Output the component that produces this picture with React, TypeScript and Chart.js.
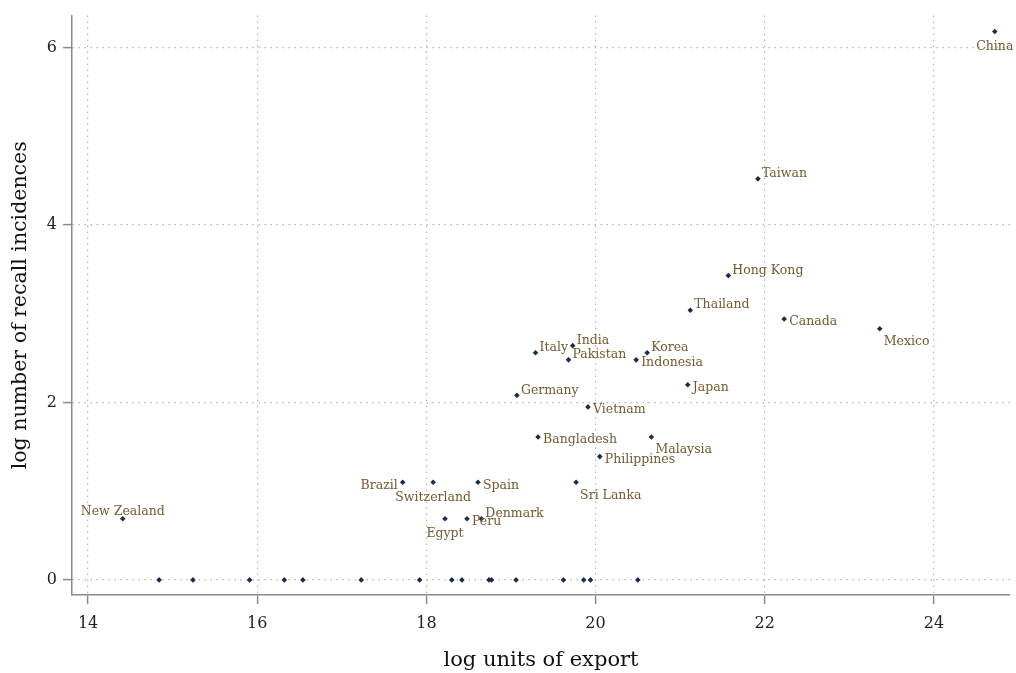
import React, { useEffect, useRef } from "react";
import { Chart, registerables } from "chart.js";

Chart.register(...registerables);

const countries = [
  "China", "Taiwan", "Hong Kong", "Thailand", "Canada", "Mexico",
  "India", "Italy", "Pakistan", "Korea", "Indonesia", "Japan",
  "Germany", "Vietnam", "Bangladesh", "Malaysia", "Philippines",
  "Brazil", "Switzerland", "Spain", "Sri Lanka", "Egypt", "Peru",
  "Denmark", "New Zealand",
];
const logExport = [
  24.72, 21.92, 21.57, 21.12, 22.23, 23.36,
  19.73, 19.29, 19.68, 20.61, 20.48, 21.09,
  19.07, 19.91, 19.32, 20.66, 20.05,
  17.72, 18.08, 18.61, 19.77, 18.22, 18.48,
  18.65, 14.41,
];
const logRecalls = [
  6.18, 4.52, 3.43, 3.04, 2.94, 2.83,
  2.64, 2.56, 2.48, 2.56, 2.48, 2.20,
  2.08, 1.95, 1.61, 1.61, 1.39,
  1.10, 1.10, 1.10, 1.10, 0.69, 0.69,
  0.69, 0.69,
];
// clock position of each marker label (Stata style)
const labelClock = [
  6, 2, 2, 2, 3, 4,
  2, 2, 2, 2, 3, 3,
  2, 3, 3, 4, 3,
  9, 6, 3, 4, 6, 3,
  2, 12,
];
// unlabelled points with zero recalls (log 1 = 0)
const zeroExport = [
  14.84, 15.24, 15.91, 16.32, 16.54, 17.23, 17.92, 18.30,
  18.42, 18.74, 18.77, 19.06, 19.62, 19.86, 19.94, 20.50,
];
const zeroRecalls = zeroExport.map(() => 0);

const xTicks = [14, 16, 18, 20, 22, 24];
const yTicks = [0, 2, 4, 6];

const FONT = "'DejaVu Serif', serif";
const LABEL_COLOR = "#735a30";
const DOT_COLOR = "#1c2b4f";
const AXIS_COLOR = "#8a8a8a";
const GRID_COLOR = "#b4b4b4";

const clockOffsets: Record<number, { dx: number; dy: number; align: CanvasTextAlign }> = {
  2: { dx: 4, dy: -5, align: "left" },
  3: { dx: 5, dy: 3, align: "left" },
  4: { dx: 4, dy: 13, align: "left" },
  6: { dx: 0, dy: 15, align: "center" },
  9: { dx: -5, dy: 3, align: "right" },
  12: { dx: 0, dy: -7, align: "center" },
};

const labelPlugin = {
  id: "markerLabels",
  afterDatasetsDraw(chart: any) {
    const meta = chart.getDatasetMeta(0);
    const ctx = chart.ctx;
    ctx.save();
    ctx.font = `12.5px ${FONT}`;
    ctx.fillStyle = LABEL_COLOR;
    ctx.textBaseline = "middle";
    meta.data.forEach((pt: any, i: number) => {
      const o = clockOffsets[labelClock[i]];
      ctx.textAlign = o.align;
      ctx.fillText(countries[i], pt.x + o.dx, pt.y + o.dy);
    });
    ctx.restore();
  },
};

const gridOpts = {
  color: GRID_COLOR,
  lineWidth: 1.2,
  drawTicks: true,
  tickLength: 9,
  tickColor: AXIS_COLOR,
  tickWidth: 1.5,
  tickBorderDash: [],
};

export default function App() {
  const ref = useRef<HTMLCanvasElement>(null);
  useEffect(() => {
    document.body.style.margin = "0";
    const chart = new Chart(ref.current!, {
      type: "scatter",
      data: {
        datasets: [
          {
            data: countries.map((_, i) => ({ x: logExport[i], y: logRecalls[i] })),
            pointStyle: "rectRot",
            pointRadius: 2.8,
            backgroundColor: DOT_COLOR,
            borderColor: DOT_COLOR,
            borderWidth: 0,
          },
          {
            data: zeroExport.map((x, i) => ({ x, y: zeroRecalls[i] })),
            pointStyle: "rectRot",
            pointRadius: 2.8,
            backgroundColor: DOT_COLOR,
            borderColor: DOT_COLOR,
            borderWidth: 0,
          },
        ],
      },
      options: {
        animation: false,
        responsive: false,
        layout: { padding: { top: 15, right: 6, left: 0, bottom: 0 } },
        plugins: { legend: { display: false }, tooltip: { enabled: false } },
        scales: {
          x: {
            type: "linear",
            min: 13.81,
            max: 24.9,
            afterBuildTicks: (s: any) => {
              s.ticks = xTicks.map((v) => ({ value: v }));
            },
            afterFit: (s: any) => {
              s.height = 78;
            },
            border: { display: true, color: AXIS_COLOR, width: 1.5, dash: [1.5, 4.5] },
            grid: gridOpts,
            ticks: {
              color: "#222",
              font: { family: FONT, size: 16 },
              padding: 10,
              callback: (v: any) => String(v),
            },
            title: {
              display: true,
              text: "log units of export",
              color: "#111",
              font: { family: FONT, size: 21 },
              padding: { top: 10, bottom: 0 },
            },
          },
          y: {
            type: "linear",
            min: -0.17,
            max: 6.36,
            afterBuildTicks: (s: any) => {
              s.ticks = yTicks.map((v) => ({ value: v }));
            },
            afterFit: (s: any) => {
              s.width = 72;
            },
            border: { display: true, color: AXIS_COLOR, width: 1.5, dash: [1.5, 4.5] },
            grid: gridOpts,
            ticks: {
              color: "#222",
              font: { family: FONT, size: 16 },
              padding: 6,
              callback: (v: any) => String(v),
            },
            title: {
              display: true,
              text: "log number of recall incidences",
              color: "#111",
              font: { family: FONT, size: 20.5 },
              padding: { top: 8, bottom: 0 },
            },
          },
        },
      },
      plugins: [labelPlugin],
    });
    return () => chart.destroy();
  }, []);
  return (
    <div style={{ width: 1016, height: 673, background: "#fff" }}>
      <canvas ref={ref} width={1016} height={673} style={{ display: "block" }} />
    </div>
  );
}
